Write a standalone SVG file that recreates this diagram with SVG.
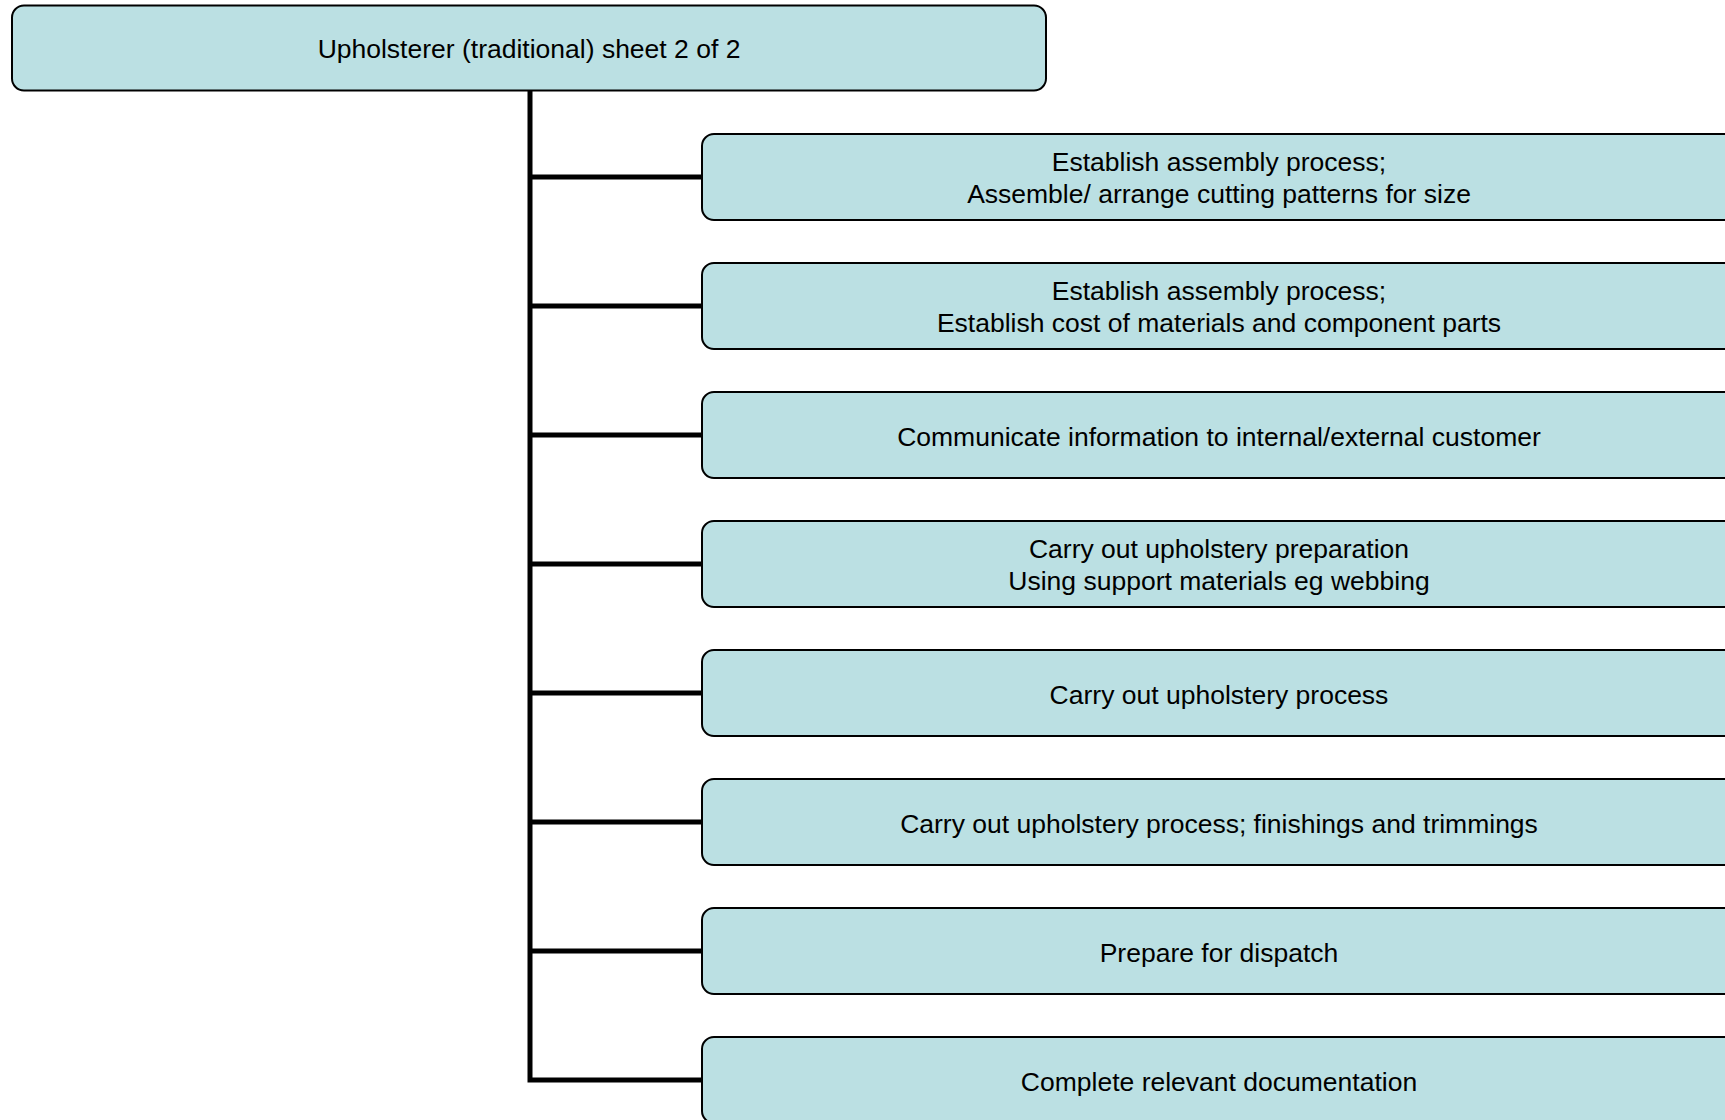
<svg xmlns="http://www.w3.org/2000/svg" width="1725" height="1120" viewBox="0 0 1725 1120">
<style>
.box{fill:#BBE0E3;stroke:#000;stroke-width:2}
.t{font-family:"Liberation Sans",Arial,sans-serif;font-size:26.5px;fill:#000;text-anchor:middle}
.c{fill:none;stroke:#000;stroke-width:5;stroke-linejoin:miter;stroke-linecap:butt}
</style>
<rect width="1725" height="1120" fill="#fff"/>
<g id="connectors">
<path class="c" d="M530 90 V1080 H702"/>
<path class="c" d="M530 177 H702 M530 306 H702 M530 435 H702 M530 564 H702 M530 693 H702 M530 822 H702 M530 951 H702"/>
</g>
<g id="root"><rect class="box" x="12" y="5.5" width="1034" height="85" rx="12"/><text class="t" x="529" y="58">Upholsterer (traditional) sheet 2 of 2</text></g>
<g id="n1"><rect class="box" x="702" y="134" width="1034" height="86" rx="12"/><text class="t" x="1219" y="171">Establish assembly process;</text><text class="t" x="1219" y="203">Assemble/ arrange cutting patterns for size</text></g>
<g id="n2"><rect class="box" x="702" y="263" width="1034" height="86" rx="12"/><text class="t" x="1219" y="300">Establish assembly process;</text><text class="t" x="1219" y="332">Establish cost of materials and component parts</text></g>
<g id="n3"><rect class="box" x="702" y="392" width="1034" height="86" rx="12"/><text class="t" x="1219" y="446">Communicate information to internal/external customer</text></g>
<g id="n4"><rect class="box" x="702" y="521" width="1034" height="86" rx="12"/><text class="t" x="1219" y="558">Carry out upholstery preparation</text><text class="t" x="1219" y="590">Using support materials eg webbing</text></g>
<g id="n5"><rect class="box" x="702" y="650" width="1034" height="86" rx="12"/><text class="t" x="1219" y="704">Carry out upholstery process</text></g>
<g id="n6"><rect class="box" x="702" y="779" width="1034" height="86" rx="12"/><text class="t" x="1219" y="833">Carry out upholstery process; finishings and trimmings</text></g>
<g id="n7"><rect class="box" x="702" y="908" width="1034" height="86" rx="12"/><text class="t" x="1219" y="962">Prepare for dispatch</text></g>
<g id="n8"><rect class="box" x="702" y="1037" width="1034" height="86" rx="12"/><text class="t" x="1219" y="1091">Complete relevant documentation</text></g>
</svg>
